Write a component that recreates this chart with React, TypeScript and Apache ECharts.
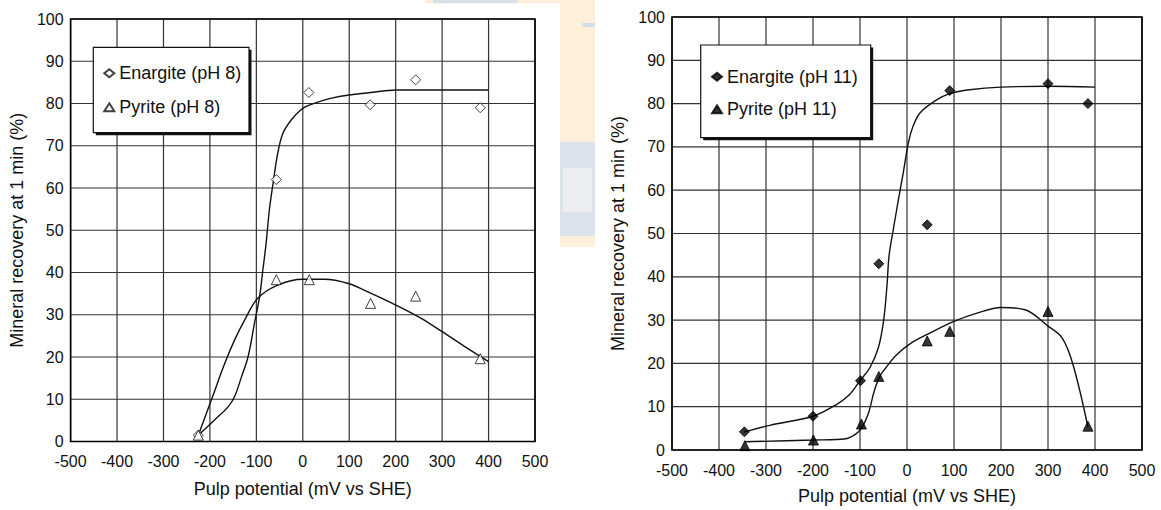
import React, { useEffect, useRef } from "react";
import * as echarts from "echarts";

// ---- Data ----
const xTicks = [-500, -400, -300, -200, -100, 0, 100, 200, 300, 400, 500];
const yTicks = [0, 10, 20, 30, 40, 50, 60, 70, 80, 90, 100];

// pH 8 measured points
const enargite8X = [-225, -57, 13, 145, 243, 382];
const enargite8Y = [1.5, 62, 82.6, 79.7, 85.6, 79];
const pyrite8X = [-225, -57, 14, 146, 243, 382];
const pyrite8Y = [1.5, 38.3, 38.3, 32.7, 34.4, 19.6];

// pH 8 fitted curves
const enargite8FitX = [-225, -190, -161, -147, -132, -118, -104, -93, -86, -79, -72, -64, -54, -43, -25, -4, 11, 67, 146, 202, 400];
const enargite8FitY = [1.5, 5.1, 8.2, 10.6, 15.3, 20, 28, 34.3, 40.6, 46.9, 54.8, 61.1, 68.2, 72.9, 76.1, 78.5, 79.5, 81.4, 82.6, 83.2, 83.2];
const pyrite8FitX = [-225, -197, -168, -147, -125, -97, -54, 0, 46, 98, 146, 200, 254, 300, 354, 400];
const pyrite8FitY = [1.5, 9.8, 18.5, 24, 28.8, 33.9, 37, 38.4, 38.4, 37.4, 35.1, 32.3, 29.2, 26, 22.1, 18.9];

// pH 11 measured points
const enargite11X = [-346, -200, -99, -60, 43, 91, 300, 385];
const enargite11Y = [4.2, 7.8, 16, 43, 52, 83, 84.6, 80];
const pyrite11X = [-345, -199, -97, -60, 43, 91, 300, 385];
const pyrite11Y = [1, 2.3, 6, 17, 25.2, 27.4, 32, 5.5];

// pH 11 fitted curves
const enargite11FitX = [-346, -292, -200, -150, -122, -100, -79, -61, -50, -43, -38, -29, -18, -8, 3, 13, 28, 62, 91, 133, 200, 300, 400];
const enargite11FitY = [4.2, 5.7, 7.8, 10.5, 12.8, 16, 19, 23.6, 29.7, 37.4, 45, 51, 58, 64, 71, 74.8, 77.9, 80.8, 82.3, 83.2, 83.8, 84, 83.8];
const pyrite11FitX = [-345, -200, -130, -110, -97, -82, -70, -58, -45, -22, 10, 43, 100, 149, 200, 251, 300, 330, 353, 385];
const pyrite11FitY = [1.9, 2.3, 2.6, 3.6, 5, 8.5, 13.5, 17, 19, 22, 24.8, 26.7, 29.7, 31.6, 32.9, 32.4, 28.6, 25.9, 19.8, 5.3];

const xName = "Pulp potential (mV vs SHE)";
const yName = "Mineral recovery at 1 min (%)";

const FONT = "'Liberation Sans', Arial, Helvetica, sans-serif";
const zip = (xs: number[], ys: number[]) => xs.map((x, i) => [x, ys[i]]);

type Panel = {
  grid: { left: number; top: number; width: number; height: number };
  xNameGap: number;
  yNameGap: number;
  legendLeft: number;
  legendRows: number[];
  box: number[];
  filled: boolean;
  eName: string;
  pName: string;
  eX: number[]; eY: number[]; pX: number[]; pY: number[];
  eFX: number[]; eFY: number[]; pFX: number[]; pFY: number[];
  extraGraphic: any[];
};

function axisOpt(isX: boolean, nameGap: number) {
  return {
    type: "value",
    min: isX ? xTicks[0] : yTicks[0],
    max: isX ? xTicks[xTicks.length - 1] : yTicks[yTicks.length - 1],
    interval: isX ? 100 : 10,
    name: isX ? xName : yName,
    nameLocation: "middle",
    nameGap,
    ...(isX ? {} : { nameRotate: 90 }),
    nameTextStyle: { fontSize: 18, color: "#111", fontFamily: FONT },
    axisLine: { show: false, onZero: false },
    axisTick: { show: false },
    axisLabel: isX
      ? { fontSize: 16, color: "#111", margin: 12, fontFamily: FONT, showMinLabel: true, showMaxLabel: true }
      : { fontSize: 16, color: "#111", margin: 7, fontFamily: FONT, showMinLabel: true, showMaxLabel: true },
    splitLine: { show: false },
  };
}

function buildOption(p: Panel) {
  const markerStyle = () =>
    p.filled
      ? { color: "#000", borderColor: "#000", borderWidth: 1 }
      : { color: "#fff", borderColor: "#111", borderWidth: 1 };
  const fitLine = (xs: number[], ys: number[], nm: string) => ({
    type: "line",
    name: nm,
    data: zip(xs, ys),
    smooth: 0.35,
    showSymbol: false,
    symbol: "none",
    lineStyle: { color: "#111", width: 1.4 },
    z: 2,
    silent: true,
  });
  return {
    animation: false,
    backgroundColor: "#fff",
    grid: [{ ...p.grid }],
    xAxis: [axisOpt(true, p.xNameGap)],
    yAxis: [axisOpt(false, p.yNameGap)],
    legend: [{
      data: [p.eName, p.pName],
      orient: "vertical",
      left: p.legendLeft,
      top: p.legendRows[0] - 9,
      padding: 0,
      itemWidth: 10,
      itemHeight: 8,
      itemGap: p.legendRows[1] - p.legendRows[0] - 18,
      selectedMode: false,
      z: 10,
      textStyle: { fontSize: 18, lineHeight: 18, color: "#111", fontFamily: FONT },
    }],
    series: [
      fitLine(p.eFX, p.eFY, "fit-e"),
      fitLine(p.pFX, p.pFY, "fit-p"),
      { type: "scatter", name: p.eName, data: zip(p.eX, p.eY), symbol: "diamond", symbolSize: 10, itemStyle: markerStyle(), z: 3 },
      { type: "scatter", name: p.pName, data: zip(p.pX, p.pY), symbol: "triangle", symbolSize: 10, itemStyle: markerStyle(), z: 3 },
    ],
  };
}

// grid lines and frame, placed through the chart's own axis scales
function gridGraphics(chart: any) {
  const px = (x: number, y: number): number[] | null => {
    const r = chart.convertToPixel({ gridIndex: 0 }, [x, y]);
    return r && isFinite(r[0]) && isFinite(r[1]) ? r : null;
  };
  const xMin = xTicks[0], xMax = xTicks[xTicks.length - 1];
  const yMin = yTicks[0], yMax = yTicks[yTicks.length - 1];
  const out: any[] = [];
  xTicks.forEach((x) => {
    const a = px(x, yMin), b = px(x, yMax);
    if (a && b) out.push({ type: "line", z: 1, silent: true, shape: { x1: a[0], y1: a[1], x2: b[0], y2: b[1] }, style: { stroke: "#333", lineWidth: 1.2 } });
  });
  yTicks.forEach((y) => {
    const a = px(xMin, y), b = px(xMax, y);
    if (a && b) out.push({ type: "line", z: 1, silent: true, shape: { x1: a[0], y1: a[1], x2: b[0], y2: b[1] }, style: { stroke: "#333", lineWidth: 1.2 } });
  });
  const tl = px(xMin, yMax), br = px(xMax, yMin);
  if (tl && br) {
    out.push({ type: "rect", z: 1, silent: true, shape: { x: tl[0], y: tl[1], width: br[0] - tl[0], height: br[1] - tl[1] }, style: { fill: "none", stroke: "#000", lineWidth: 1.6 } });
  }
  return out;
}

function legendBox(p: Panel) {
  const [bx, by, bw, bh] = p.box;
  return [
    { type: "rect", z: 5, silent: true, shape: { x: bx + 2.5, y: by + 2.5, width: bw, height: bh }, style: { fill: "#111" } },
    { type: "rect", z: 5, silent: true, shape: { x: bx, y: by, width: bw, height: bh }, style: { fill: "#fff", stroke: "#111", lineWidth: 1.2 } },
  ];
}

const watermark = [
  { type: "rect", z: -1, shape: { x: 425, y: 0, width: 170, height: 3.3 }, style: { fill: "#fdefda" } },
  { type: "rect", z: -1, shape: { x: 433, y: 0, width: 84, height: 3.3 }, style: { fill: "#d9e0e8" } },
  { type: "rect", z: -1, shape: { x: 560, y: 0, width: 35, height: 247 }, style: { fill: "#fdefda" } },
  { type: "rect", z: -1, shape: { x: 582, y: 23, width: 13, height: 4 }, style: { fill: "#d6dde6" } },
  { type: "rect", z: -1, shape: { x: 560, y: 142, width: 35, height: 94 }, style: { fill: "#dde3eb" } },
  { type: "rect", z: -1, shape: { x: 563, y: 168, width: 29, height: 44 }, style: { fill: "#eceef2" } },
];

const leftPanel: Panel = {
  grid: { left: 68.5, top: 19, width: 466.5, height: 422.5 },
  xNameGap: 38, yNameGap: 41,
  legendLeft: 103.3, legendRows: [73.3, 107.3],
  box: [93.3, 47.3, 155.7, 85.4],
  filled: false,
  eName: "Enargite (pH 8)", pName: "Pyrite (pH 8)",
  eX: enargite8X, eY: enargite8Y, pX: pyrite8X, pY: pyrite8Y,
  eFX: enargite8FitX, eFY: enargite8FitY, pFX: pyrite8FitX, pFY: pyrite8FitY,
  extraGraphic: watermark,
};
const OFF = 600;
const rightPanel: Panel = {
  grid: { left: 672 - OFF, top: 17, width: 470, height: 436 },
  xNameGap: 37, yNameGap: 38,
  legendLeft: 711 - OFF, legendRows: [76.7, 109.3],
  box: [700.7 - OFF, 45, 170, 92.7],
  filled: true,
  eName: "Enargite (pH 11)", pName: "Pyrite (pH 11)",
  eX: enargite11X, eY: enargite11Y, pX: pyrite11X, pY: pyrite11Y,
  eFX: enargite11FitX, eFY: enargite11FitY, pFX: pyrite11FitX, pFY: pyrite11FitY,
  extraGraphic: [],
};

function ChartPanel({ panel, left, width }: { panel: Panel; left: number; width: number }) {
  const ref = useRef<HTMLDivElement>(null);
  useEffect(() => {
    if (!ref.current) return;
    const chart = echarts.init(ref.current, undefined, { renderer: "svg" });
    chart.setOption(buildOption(panel));
    let lines: any[] = [];
    try {
      lines = gridGraphics(chart);
    } catch (e) {
      lines = [];
    }
    chart.setOption({ graphic: [...panel.extraGraphic, ...lines, ...legendBox(panel)] });
    return () => chart.dispose();
  }, []);
  return <div ref={ref} style={{ position: "absolute", left, top: 0, width, height: 510 }} />;
}

export default function App() {
  useEffect(() => {
    document.body.style.margin = "0";
  }, []);
  return (
    <div style={{ position: "relative", width: 1161, height: 510, background: "#fff" }}>
      <ChartPanel panel={leftPanel} left={0} width={OFF} />
      <ChartPanel panel={rightPanel} left={OFF} width={1161 - OFF} />
    </div>
  );
}
